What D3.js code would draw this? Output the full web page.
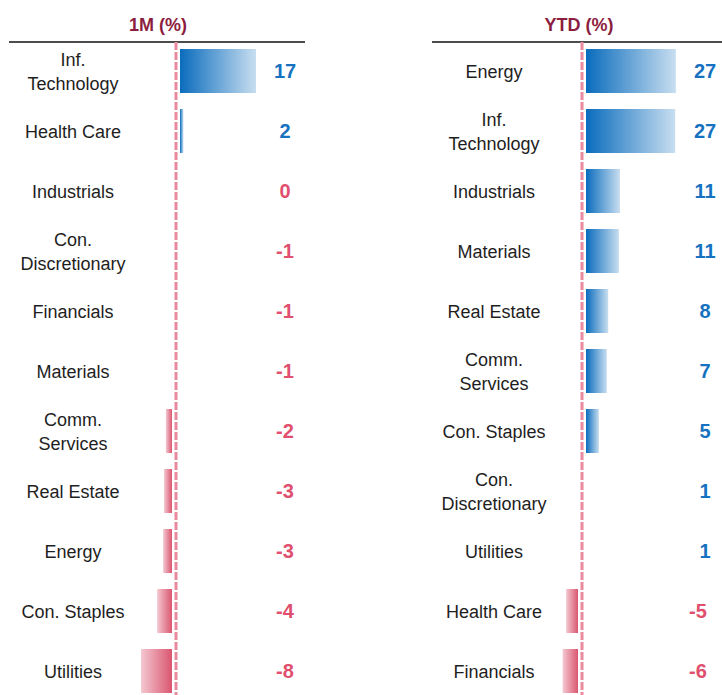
<!DOCTYPE html>
<html lang="en">
<head>
    <meta charset="UTF-8" />
    <script src="https://d3js.org/d3.v7.min.js"></script>
    <title>Sector returns 1M and YTD</title>
    <style>
        body { margin: 0; background: #fff; }
        svg { display: block; font-family: "Liberation Sans", Arial, sans-serif; }
    </style>
</head>
<body>
<div id="my_chart"></div>
<script>
    // Data (values in %)
    var monthSectors = [["Inf.", "Technology"], ["Health Care"], ["Industrials"], ["Con.", "Discretionary"],
        ["Financials"], ["Materials"], ["Comm.", "Services"], ["Real Estate"], ["Energy"], ["Con. Staples"], ["Utilities"]];
    var monthValues = [17.4, 1.6, -0.2, -0.6, -0.8, -0.9, -2.2, -2.6, -2.8, -4.1, -7.6];

    var ytdSectors = [["Energy"], ["Inf.", "Technology"], ["Industrials"], ["Materials"], ["Real Estate"],
        ["Comm.", "Services"], ["Con. Staples"], ["Con.", "Discretionary"], ["Utilities"], ["Health Care"], ["Financials"]];
    var ytdValues = [27.2, 27.0, 11.0, 10.7, 7.6, 7.2, 4.9, 1.1, 0.9, -4.6, -5.6];

    var titles = ["1M (%)", "YTD (%)"];

    var width = 722, height = 695;
    var blue = "#1672c0", red = "#e0506e";

    var svg = d3.select("#my_chart").append("svg")
        .attr("width", width)
        .attr("height", height);

    // gradients: dark near zero, light at the far end
    var defs = svg.append("defs");
    var gPos = defs.append("linearGradient").attr("id", "gradPos");
    gPos.append("stop").attr("offset", "0%").attr("stop-color", "#0a6cbd");
    gPos.append("stop").attr("offset", "100%").attr("stop-color", "#c8def0");
    var gNeg = defs.append("linearGradient").attr("id", "gradNeg");
    gNeg.append("stop").attr("offset", "0%").attr("stop-color", "#f4c8d1");
    gNeg.append("stop").attr("offset", "100%").attr("stop-color", "#da5670");

    function panel(cfg) {
        var g = svg.append("g");
        var rows = cfg.sectors.map((s, i) => ({ name: s, value: cfg.values[i], key: i }));

        var y = d3.scaleBand()
            .domain(rows.map(d => d.key))
            .range([41, 701])
            .paddingInner(0.2667)
            .paddingOuter(0.1333);

        var x = d3.scaleLinear()
            .domain([0, 1])
            .range([cfg.zero, cfg.zero + cfg.unit]);

        var gap = 4;

        // title
        g.append("text")
            .attr("x", cfg.titleX)
            .attr("y", 31)
            .attr("text-anchor", "middle")
            .attr("font-size", 18)
            .attr("font-weight", "bold")
            .attr("fill", "#8c1d40")
            .text(cfg.title);

        // top rule
        g.append("line")
            .attr("x1", cfg.ruleX[0]).attr("x2", cfg.ruleX[1])
            .attr("y1", 42).attr("y2", 42)
            .attr("stroke", "#111").attr("stroke-width", 1.6);

        // bars
        g.selectAll("rect.bar")
            .data(rows.filter(d => Math.abs(x(d.value) - x(0)) > gap))
            .enter()
            .append("rect")
            .attr("class", "bar")
            .attr("x", d => d.value > 0 ? x(0) + gap : x(d.value))
            .attr("y", d => y(d.key))
            .attr("width", d => Math.abs(x(d.value) - x(0)) - gap)
            .attr("height", y.bandwidth())
            .attr("fill", d => d.value > 0 ? "url(#gradPos)" : "url(#gradNeg)");

        // zero line
        g.append("line")
            .attr("x1", x(0)).attr("x2", x(0))
            .attr("y1", 42).attr("y2", height)
            .attr("stroke", "#e98a9d")
            .attr("stroke-width", 3)
            .attr("stroke-dasharray", "8,2");

        // category labels
        var lab = g.selectAll("text.cat")
            .data(rows)
            .enter()
            .append("text")
            .attr("class", "cat")
            .attr("text-anchor", "middle")
            .attr("font-size", 18)
            .attr("fill", "#1e1e1e");
        lab.each(function (d) {
            var t = d3.select(this);
            var cy = y(d.key) + y.bandwidth() / 2;
            var n = d.name.length;
            d.name.forEach((line, j) => {
                t.append("tspan")
                    .attr("x", cfg.labelX)
                    .attr("y", cy + (j - (n - 1) / 2) * 24 + 7)
                    .text(line);
            });
        });

        // value labels
        g.selectAll("text.val")
            .data(rows)
            .enter()
            .append("text")
            .attr("class", "val")
            .attr("x", d => d.value < -0.5 ? cfg.negValueX : cfg.valueX)
            .attr("y", d => y(d.key) + y.bandwidth() / 2 + 7)
            .attr("text-anchor", "middle")
            .attr("font-size", 20)
            .attr("font-weight", "bold")
            .attr("fill", d => d.value > 0 ? blue : red)
            .text(d => String(Math.round(d.value)).replace("-0", "0"));
    }

    panel({ sectors: monthSectors, values: monthValues, title: titles[0], titleX: 158,
        ruleX: [9, 305], zero: 176, unit: 4.6, labelX: 73, valueX: 285, negValueX: 285 });
    panel({ sectors: ytdSectors, values: ytdValues, title: titles[1], titleX: 579,
        ruleX: [432, 722], zero: 582, unit: 3.45, labelX: 494, valueX: 705, negValueX: 698 });
</script>
</html>
